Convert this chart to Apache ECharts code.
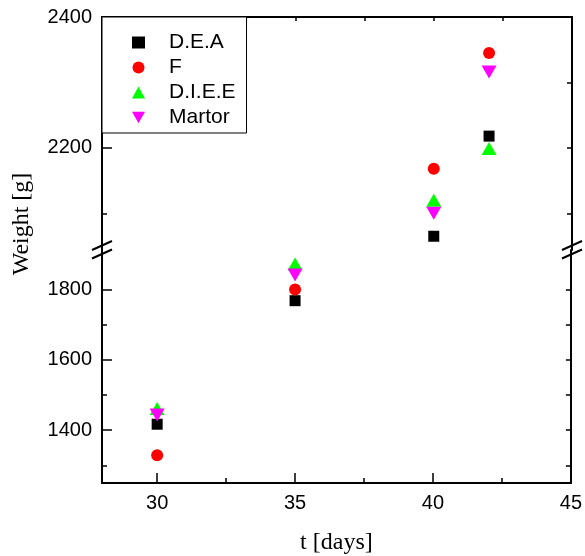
<!DOCTYPE html>
<html><head><meta charset="utf-8">
<script src="https://cdn.jsdelivr.net/npm/echarts@6/dist/echarts.min.js"></script>
<style>html,body{margin:0;padding:0;background:#fff}#c{width:585px;height:556px}</style>
</head><body><div id="c"></div>
<script>
// ---- data ----
const days = [30, 35, 40, 42];
const seriesNames = ['D.E.A', 'F', 'D.I.E.E', 'Martor'];
const deaValues = [1417, 1768, 2065, 2218];
const fValues = [1329, 1800, 2168, 2345];
const dieeValues = [1462, 1872, 2120, 2199];
const martorValues = [1443, 1841, 2100, 2316];
const xTickLabels = [30, 35, 40, 45];
const xMinorTicks = [32.5, 37.5, 42.5];
const yTickLabelsLower = [1400, 1600, 1800];
const yMinorLower = [1300, 1500, 1700];
const yTickLabelsUpper = [2200, 2400];
const yMinorUpper = [2100, 2300];
const lowerRange = [1250, 1912];
const upperRange = [2044, 2400];
const xRange = [28, 45];

// ---- styles ----
const sans = 'Liberation Sans';
const serif = 'Liberation Serif';
const colors = ['#000000', '#ff0000', '#00ff00', '#ff00ff'];
const symbols = ['rect', 'circle', 'triangle', 'path://M0,0L10,0L5,8.66Z'];
const symbolSizes = [11, 12, [15, 13], [15, 13]];
const allValues = [deaValues, fValues, dieeValues, martorValues];

const axisLine = {show: true, onZero: false, lineStyle: {color: '#000', width: 2}};
const noLine = {show: false};

function tick(values, len) {
  return {show: true, inside: true, length: len, customValues: values, lineStyle: {color: '#000', width: 1.5}};
}
function labelStyle(values, margin) {
  return {show: true, customValues: values, margin: margin, color: '#000', fontFamily: sans, fontSize: 20,
    formatter: v => String(v)};
}

const xAxes = [
  {type: 'value', gridIndex: 0, position: 'top', min: xRange[0], max: xRange[1],
   axisLine: axisLine, axisTick: tick([30, 32.5, 35, 37.5, 40, 42.5], 4), axisLabel: {show: false}, splitLine: {show: false}},
  {type: 'value', gridIndex: 1, position: 'bottom', min: xRange[0], max: xRange[1],
   axisLine: axisLine, axisTick: tick(xTickLabels, 10), axisLabel: labelStyle(xTickLabels, 10), splitLine: {show: false},
   name: 't [days]', nameLocation: 'middle', nameGap: 48,
   nameTextStyle: {fontFamily: serif, fontSize: 24, color: '#000'}},
  {type: 'value', gridIndex: 1, position: 'bottom', min: xRange[0], max: xRange[1],
   axisLine: noLine, axisTick: tick(xMinorTicks, 5), axisLabel: {show: false}, splitLine: {show: false}}
];

const yAxes = [
  {type: 'value', gridIndex: 0, position: 'left', min: upperRange[0], max: upperRange[1],
   axisLine: axisLine, axisTick: tick(yTickLabelsUpper, 10), axisLabel: labelStyle(yTickLabelsUpper, 10), splitLine: {show: false}},
  {type: 'value', gridIndex: 0, position: 'left', min: upperRange[0], max: upperRange[1],
   axisLine: noLine, axisTick: tick(yMinorUpper, 5), axisLabel: {show: false}, splitLine: {show: false}},
  {type: 'value', gridIndex: 0, position: 'right', min: upperRange[0], max: upperRange[1],
   axisLine: axisLine, axisTick: tick([2100, 2200, 2300], 5), axisLabel: {show: false}, splitLine: {show: false}},
  {type: 'value', gridIndex: 1, position: 'left', min: lowerRange[0], max: lowerRange[1],
   axisLine: axisLine, axisTick: tick(yTickLabelsLower, 10), axisLabel: labelStyle(yTickLabelsLower, 10), splitLine: {show: false}},
  {type: 'value', gridIndex: 1, position: 'left', min: lowerRange[0], max: lowerRange[1],
   axisLine: noLine, axisTick: tick(yMinorLower, 5), axisLabel: {show: false}, splitLine: {show: false}},
  {type: 'value', gridIndex: 1, position: 'right', min: lowerRange[0], max: lowerRange[1],
   axisLine: axisLine, axisTick: tick([1300, 1400, 1500, 1600, 1700, 1800], 5), axisLabel: {show: false}, splitLine: {show: false}}
];

const series = [];
seriesNames.forEach((name, i) => {
  const pts = days.map((d, j) => [d, allValues[i][j]]);
  const common = {type: 'scatter', name: name, symbol: symbols[i], symbolSize: symbolSizes[i],
    itemStyle: {color: colors[i], opacity: 1}, emphasis: {disabled: true}, z: 2 + i};
  series.push(Object.assign({}, common, {xAxisIndex: 0, yAxisIndex: 0,
    data: pts.filter(p => p[1] >= upperRange[0])}));
  series.push(Object.assign({}, common, {xAxisIndex: 1, yAxisIndex: 3,
    data: pts.filter(p => p[1] <= lowerRange[1])}));
});

function slash(x, y) {
  return {type: 'line', shape: {x1: x - 10, y1: y + 4.5, x2: x + 10, y2: y - 4.5},
    style: {stroke: '#000', lineWidth: 2}, z: 100};
}

const chart = echarts.init(document.getElementById('c'));
chart.setOption({
  animation: false,
  backgroundColor: '#fff',
  grid: [
    {left: 102, right: 13, top: 17, height: 233},
    {left: 102, right: 13, top: 250, bottom: 73}
  ],
  xAxis: xAxes,
  yAxis: yAxes,
  legend: {
    data: seriesNames, orient: 'vertical', left: 102, top: 17,
    padding: [15, 11, 5, 30], itemGap: 4, itemWidth: 13, itemHeight: 12,
    borderColor: '#000', borderWidth: 1, backgroundColor: '#fff',
    textStyle: {fontFamily: sans, fontSize: 21, color: '#000', lineHeight: 20, padding: [0, 0, 0, 19]},
    selectedMode: false
  },
  graphic: [
    slash(102, 245.5), slash(102, 254),
    slash(572, 245.5), slash(572, 254),
    {type: 'text', x: 22, y: 224, rotation: Math.PI / 2,
     style: {text: 'Weight [g]', font: '24px "Liberation Serif"', fill: '#000', align: 'center', verticalAlign: 'middle'}}
  ],
  series: series
});
</script></body></html>
